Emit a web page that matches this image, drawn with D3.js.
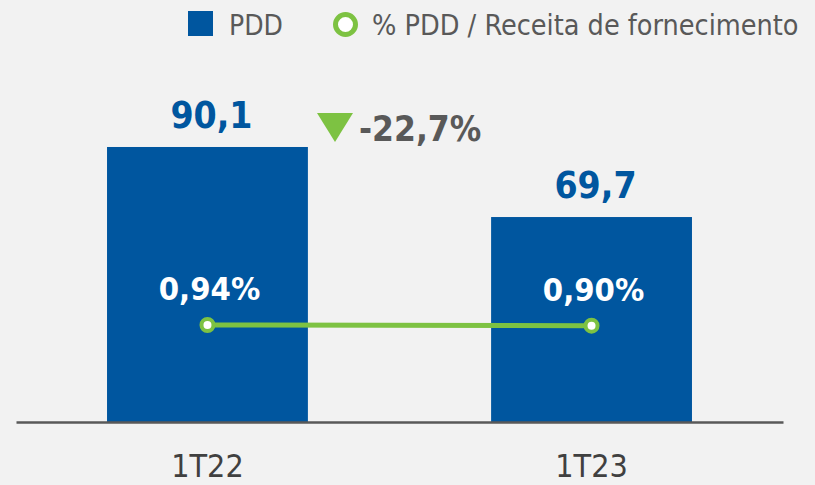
<!DOCTYPE html>
<head>
    <meta charset="utf-8">
    <title>PDD</title>
    <style>
        body { margin: 0; background: #f2f2f2; }
        text { font-family: "DejaVu Sans Condensed", "DejaVu Sans", sans-serif; }
    </style>
    <script src="https://d3js.org/d3.v7.min.js"></script>
</head>
<body>
    <script>
        // data
        var periods = ["1T22", "1T23"];
        var pdd = [90.1, 69.7];
        var pddLabels = ["90,1", "69,7"];
        var pctReceita = [0.94, 0.90];
        var pctLabels = ["0,94%", "0,90%"];
        var variation = "-22,7%";
        var legendLabels = ["PDD", "% PDD / Receita de fornecimento"];

        var width = 815, height = 485;
        var blue = "#00569f", green = "#7dc242";

        var svg = d3.select("body")
            .append("svg")
            .attr("width", width)
            .attr("height", height);

        svg.append("rect")
            .attr("width", width)
            .attr("height", height)
            .attr("fill", "#f2f2f2");

        var x = d3.scaleBand()
            .domain(periods)
            .range([16, 783])
            .paddingInner(0.477)
            .paddingOuter(0.237);

        var y = d3.scaleLinear()
            .domain([10, 100])
            .range([422, 113]);

        // secondary axis for the percentage line (wide domain -> almost flat)
        var y2 = d3.scaleLinear()
            .domain([0, 20])
            .range([341, 0]);

        var data = periods.map(function (p, i) {
            return { p: p, v: pdd[i], lab: pddLabels[i], pct: pctReceita[i], pctLab: pctLabels[i] };
        });

        // bars
        svg.append("g").selectAll("rect")
            .data(data)
            .enter()
            .append("rect")
            .attr("x", d => x(d.p))
            .attr("y", d => y(d.v))
            .attr("width", x.bandwidth())
            .attr("height", d => y(10) - y(d.v))
            .attr("fill", blue);

        // baseline
        var axis = svg.append("g")
            .attr("transform", "translate(0," + y(10) + ")")
            .call(d3.axisBottom(x).tickSize(0).tickPadding(32));
        axis.select(".domain")
            .attr("stroke", "#595959")
            .attr("stroke-width", 2.5);
        axis.selectAll(".tick text")
            .attr("font-family", "DejaVu Sans Condensed, DejaVu Sans, sans-serif")
            .attr("font-size", 32)
            .attr("fill", "#404040");

        // value labels
        svg.append("g").selectAll("text")
            .data(data)
            .enter()
            .append("text")
            .attr("x", d => x(d.p) + x.bandwidth() / 2 + 4)
            .attr("y", d => y(d.v) - 19)
            .attr("text-anchor", "middle")
            .attr("font-size", 37)
            .attr("font-weight", "bold")
            .attr("fill", blue)
            .text(d => d.lab);

        // percent line
        var line = d3.line()
            .x(d => x(d.p) + x.bandwidth() / 2)
            .y(d => y2(d.pct));

        svg.append("path")
            .datum(data)
            .attr("d", line)
            .attr("fill", "none")
            .attr("stroke", green)
            .attr("stroke-width", 5);

        svg.append("g").selectAll("circle")
            .data(data)
            .enter()
            .append("circle")
            .attr("cx", d => x(d.p) + x.bandwidth() / 2)
            .attr("cy", d => y2(d.pct))
            .attr("r", 6)
            .attr("fill", "#ffffff")
            .attr("stroke", green)
            .attr("stroke-width", 4);

        svg.append("g").selectAll("text")
            .data(data)
            .enter()
            .append("text")
            .attr("x", d => x(d.p) + x.bandwidth() / 2 + 2)
            .attr("y", d => y2(d.pct) - 25)
            .attr("text-anchor", "middle")
            .attr("font-size", 32.5)
            .attr("font-weight", "bold")
            .attr("fill", "#ffffff")
            .text(d => d.pctLab);

        // variation marker
        svg.append("path")
            .attr("d", "M317,113 L353,113 L335,142 Z")
            .attr("fill", green);
        svg.append("text")
            .attr("x", 359)
            .attr("y", 141)
            .attr("font-size", 35)
            .attr("font-weight", "bold")
            .attr("fill", "#595959")
            .text(variation);

        // legend
        var legend = svg.append("g");
        legend.append("rect")
            .attr("x", 188).attr("y", 11)
            .attr("width", 25).attr("height", 25)
            .attr("fill", blue);
        legend.append("text")
            .attr("x", 229).attr("y", 35)
            .attr("font-size", 28)
            .attr("fill", "#595959")
            .text(legendLabels[0]);
        legend.append("circle")
            .attr("cx", 345.5).attr("cy", 24.5)
            .attr("r", 10)
            .attr("fill", "#ffffff")
            .attr("stroke", green)
            .attr("stroke-width", 5);
        legend.append("text")
            .attr("x", 372).attr("y", 35)
            .attr("font-size", 28.5)
            .attr("fill", "#595959")
            .text(legendLabels[1]);
    </script>
</body>
